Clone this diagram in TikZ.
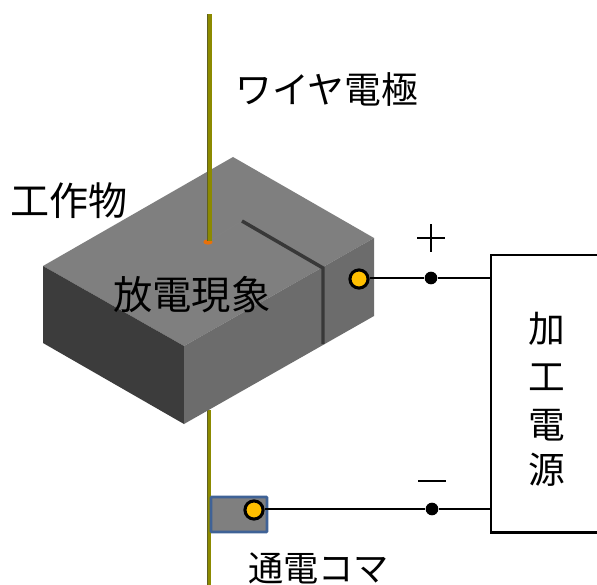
\documentclass[tikz,border=0pt]{standalone}
\usepackage{fontspec}
\newfontfamily\cjk{Noto Sans CJK JP}
\definecolor{ocontact}{HTML}{FFBF00}
\definecolor{wirecol}{HTML}{8C8A00}
\definecolor{wireedge}{HTML}{5F5F20}
\definecolor{topf}{HTML}{7F7F7F}
\definecolor{leftf}{HTML}{3C3C3C}
\definecolor{rightf}{HTML}{6C6C6C}
\definecolor{komaedge}{HTML}{3F6296}
\definecolor{spark}{HTML}{E8700A}
\tikzset{
 px/.style={x=0.75pt,y=-0.75pt},
 lbl/.style={font=\cjk\fontsize{#1pt}{32pt}\selectfont,inner sep=0pt,text=black},
 lbl/.default=27.5,
 wire/.style={draw=black,line width=1.8pt},
 junction/.style={circle,fill=black,inner sep=0pt,minimum size=9.5pt},
 contact/.style={circle,draw=black,line width=2.3pt,fill=ocontact,inner sep=0pt,minimum size=13.6pt},
}
\begin{document}
\begin{tikzpicture}[px]
\useasboundingbox (0,0) rectangle (597,585);
\fill[white] (0,0) rectangle (597,585);
% wire below the block
\fill[wirecol] (207,410) rectangle (211,585);
\fill[wireedge] (207,410) rectangle (208,585);
% block
\fill[topf] (43,266) -- (233,157) -- (374,238) -- (184,346) -- cycle;
\fill[leftf] (43,266) -- (184,346) -- (184,424) -- (43,343) -- cycle;
\fill[rightf] (184,346) -- (374,238) -- (374,316) -- (184,424) -- cycle;
% slit
\draw[black!50,line width=1.2pt] (209,241) -- (242,221);
\draw[black!78,line width=2.6pt] (242,221) -- (323,268) -- (323,344);
% wire above the block
\fill[spark] (208,242) ellipse (3.5pt and 2pt);
\fill[wirecol] (207,14) rectangle (212,241);
\fill[wireedge] (207,14) rectangle (208,241);
% labels
\node[lbl=27.6,anchor=west] (wl) at (235,89) {ワイヤ電極};
\node[lbl=29.3,anchor=west] (wp) at (10,201) {工作物};
\node[lbl=29.5,anchor=west] (ph) at (113,295) {放電現象};
\node[lbl=26.4,anchor=west] (pc) at (248,568) {通電コマ};
% power source
\node[draw=black,line width=1.8pt,fill=white,minimum width=110pt,minimum height=208pt,inner sep=0pt,anchor=north west] (src) at (490,254) {};
\node[lbl=27.5] (s1) at (547,329) {加};
\node[lbl=27.5] (s2) at (547,377) {工};
\node[lbl=27.5] (s3) at (547,425) {電};
\node[lbl=27.5] (s4) at (547,470) {源};
% contact piece
\fill[topf,draw=komaedge,line width=2pt,rounded corners=0.5pt] (211,497) rectangle (267,532);
\node[contact] (c1) at (359,279) {};
\node[contact] (c2) at (254,510) {};
\node[junction] (j1) at (431,278) {};
\node[junction] (j2) at (432,509) {};
\coordinate (s1in) at (490,278);
\coordinate (s2in) at (490,509);
\draw[wire] (c1.east |- j1) -- (j1) -- (s1in);
\draw[wire] (c2.east |- j2) -- (j2) -- (s2in);
\draw[black,line width=1.9pt] (417,238) -- (445,238) (431,224) -- (431,252);
\draw[black,line width=1.9pt] (418,481) -- (446,481);
\end{tikzpicture}
\end{document}
